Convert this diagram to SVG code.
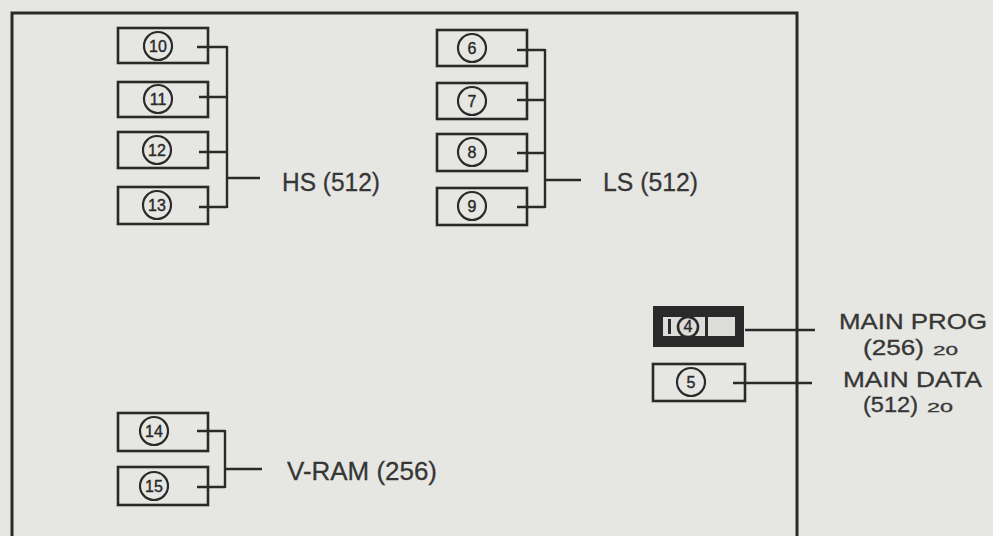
<svg xmlns="http://www.w3.org/2000/svg" width="993" height="536" viewBox="0 0 993 536">
<style>
.bx{fill:none;stroke:#2a2a2a;stroke-width:2.6}
.ci{fill:none;stroke:#2a2a2a;stroke-width:2.2}
.num{font-family:"Liberation Sans",Arial,sans-serif;font-size:16px;fill:#2a2a2a;text-anchor:middle;stroke:#2a2a2a;stroke-width:0.4}
.ln{fill:none;stroke:#2a2a2a;stroke-width:2.4}
.lbl{font-family:"Liberation Sans",Arial,sans-serif;font-size:26px;fill:#363636;stroke:#363636;stroke-width:0.3}
.rt{font-size:22px}
.sm{font-size:13px}
</style>
<rect x="0" y="0" width="993" height="536" fill="#e6e6e3"/>
<path d="M12 536 V13 H797 V536" fill="none" stroke="#2a2a2a" stroke-width="3"/>

<g id="n10"><rect class="bx" x="118" y="28" width="90" height="35"/><circle class="ci" cx="158" cy="46" r="14"/><text class="num" x="158" y="52">10</text></g>
<g id="n11"><rect class="bx" x="118" y="82" width="90" height="35"/><circle class="ci" cx="158" cy="99" r="14"/><text class="num" x="158" y="105">11</text></g>
<g id="n12"><rect class="bx" x="118" y="132" width="90" height="36"/><circle class="ci" cx="157" cy="150" r="14"/><text class="num" x="157" y="156">12</text></g>
<g id="n13"><rect class="bx" x="118" y="187" width="90" height="37"/><circle class="ci" cx="157" cy="205" r="14"/><text class="num" x="157" y="211">13</text></g>

<g id="n6"><rect class="bx" x="437" y="30" width="90" height="36"/><circle class="ci" cx="472" cy="48" r="14"/><text class="num" x="472" y="54">6</text></g>
<g id="n7"><rect class="bx" x="437" y="83" width="90" height="36"/><circle class="ci" cx="472" cy="101" r="14"/><text class="num" x="472" y="107">7</text></g>
<g id="n8"><rect class="bx" x="437" y="134" width="90" height="37"/><circle class="ci" cx="472" cy="152" r="14"/><text class="num" x="472" y="158">8</text></g>
<g id="n9"><rect class="bx" x="437" y="188" width="90" height="37"/><circle class="ci" cx="472" cy="206" r="14"/><text class="num" x="472" y="212">9</text></g>

<g id="n14"><rect class="bx" x="118" y="413" width="90" height="38"/><circle class="ci" cx="154" cy="431" r="14"/><text class="num" x="154" y="437">14</text></g>
<g id="n15"><rect class="bx" x="118" y="467" width="90" height="38"/><circle class="ci" cx="154" cy="486" r="14"/><text class="num" x="154" y="492">15</text></g>

<g id="n4"><rect x="653" y="306" width="91" height="41" fill="#2a2a2a"/><rect x="663" y="317" width="72" height="19" fill="#dcdcd9"/><circle cx="688" cy="327" r="10" fill="none" stroke="#2a2a2a" stroke-width="2.6"/><text class="num" x="688" y="332" font-size="13px">4</text><rect x="668" y="319" width="3" height="15" fill="#2a2a2a"/><rect x="705" y="317" width="3" height="19" fill="#2a2a2a"/></g>
<g id="n5"><rect class="bx" x="653" y="364" width="92" height="37"/><circle class="ci" cx="691" cy="382" r="14"/><text class="num" x="691" y="388">5</text></g>

<g id="connectors">
<path class="ln" d="M197 47 H227 M199 97 H227 M199 152 H227 M199 207 H227 M227 46 V208 M227 178 H260"/>
<path class="ln" d="M517 50 H545 M517 100 H545 M517 153 H545 M517 207 H545 M545 49 V208 M545 180 H581"/>
<path class="ln" d="M197 431 H225 M197 487 H225 M225 430 V488 M225 469 H262"/>
<path class="ln" d="M745 330 H815"/>
<path class="ln" d="M733 383 H812"/>
</g>

<g id="labels">
<text class="lbl" x="282" y="191" textLength="98" lengthAdjust="spacingAndGlyphs">HS (512)</text>
<text class="lbl" x="603" y="191" textLength="95" lengthAdjust="spacingAndGlyphs">LS (512)</text>
<text class="lbl" x="287" y="480" textLength="150" lengthAdjust="spacingAndGlyphs">V-RAM (256)</text>
<text class="lbl rt" x="839" y="329" textLength="148" lengthAdjust="spacingAndGlyphs">MAIN PROG</text>
<text class="lbl rt" x="863" y="355" textLength="61" lengthAdjust="spacingAndGlyphs">(256)</text>
<text class="lbl sm" x="933" y="355" textLength="25" lengthAdjust="spacingAndGlyphs">20</text>
<text class="lbl rt" x="843" y="387" textLength="139" lengthAdjust="spacingAndGlyphs">MAIN DATA</text>
<text class="lbl rt" x="863" y="412" textLength="55" lengthAdjust="spacingAndGlyphs">(512)</text>
<text class="lbl sm" x="927" y="412" textLength="26" lengthAdjust="spacingAndGlyphs">20</text>
</g>
</svg>
